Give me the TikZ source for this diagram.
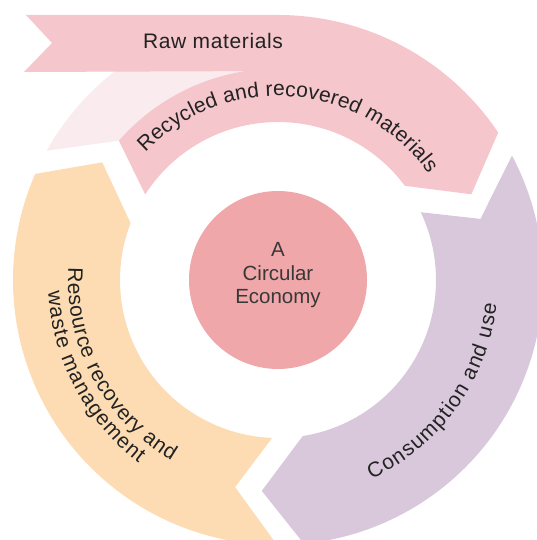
\documentclass[tikz,border=0pt]{standalone}
\usepackage{fontspec}
\setmainfont{Liberation Sans}
\newfontfamily\rawfont[LetterSpace=3]{Liberation Sans}
\usetikzlibrary{decorations.text}
\definecolor{pinkb}{HTML}{F5C6CB}
\definecolor{lpink}{HTML}{FAEBEE}
\definecolor{purp}{HTML}{D9C8DC}
\definecolor{orng}{HTML}{FDDCB4}
\definecolor{ctr}{HTML}{F0A7AA}
\definecolor{txt}{HTML}{222222}
\definecolor{ctxt}{HTML}{383838}
\newcommand\labsize{\fontsize{21}{25}\selectfont}
\begin{document}
\begin{tikzpicture}[x=1pt,y=1pt,
  arclabel/.style={decorate, decoration={text along path, text={#1}, text align=fit to path, text color=txt}},
  ctrline/.style={anchor=base, inner sep=0pt, text=ctxt, font=\fontsize{20.5}{24}\selectfont}]
\useasboundingbox (-278,-260) rectangle (258,280);
% light pink outer tail part
\fill[lpink] (150.8:265pt) -- (138.8:211.5pt) arc[start angle=138.8, end angle=90, radius=211.5pt]
  -- (90:265pt) arc[start angle=90, end angle=150.8, radius=265pt] -- cycle;
% raw materials strip
\fill[pinkb] (-252,265) -- (0.5,265) -- (0.5,209) -- (-254,208) -- (-226,237) -- cycle;
% recycled band with head
\fill[pinkb] (147.2:158pt) -- (138.8:211.5pt) arc[start angle=138.8, end angle=90, radius=211.5pt]
  -- (90:265pt) arc[start angle=90, end angle=33.8, radius=265pt]
  -- (23.9:211.5pt) -- (36.6:158pt) arc[start angle=36.6, end angle=147.2, radius=158pt] -- cycle;
% consumption band
\fill[purp] (16.8:211.5pt) -- (28:265pt) arc[start angle=28, end angle=-84.4, radius=265pt]
  -- (-94.4:211.5pt) -- (-81:158pt) arc[start angle=-81, end angle=25.4, radius=158pt] -- cycle;
% resource recovery band
\fill[orng] (-101.7:211.5pt) -- (-90.2:265pt) arc[start angle=-90.2, end angle=-203.6, radius=265pt]
  -- (-213.8:211.5pt) -- (-201.1:158pt) arc[start angle=-201.1, end angle=-92.1, radius=158pt] -- cycle;
% centre
\node[circle, fill=ctr, minimum size=178pt, inner sep=0pt] (eco) at (0,0) {};
\node[ctrline] (ecoA) at (0,23) {A};
\node[ctrline] (ecoB) at (0,-0.5) {Circular};
\node[ctrline] (ecoC) at (0,-24) {Economy};
% labels
\node[anchor=base, inner sep=0pt, text=txt, font=\rawfont\labsize] (raw) at (-65,231.7) {Raw materials};
\path[arclabel={|\labsize|Recycled and recovered materials}] (136.1:184pt) arc[start angle=136.1, end angle=35.2, radius=184pt];
\path[arclabel={|\labsize|Consumption and use}] (-64.8:220pt) arc[start angle=-64.8, end angle=-6.25, radius=220pt];
\path[arclabel={|\labsize|Resource recovery and}] (176.5:210pt) arc[start angle=176.5, end angle=239.5, radius=210pt];
\path[arclabel={|\labsize|waste management}] (182.8:230pt) arc[start angle=182.8, end angle=232.7, radius=230pt];
\end{tikzpicture}
\end{document}
